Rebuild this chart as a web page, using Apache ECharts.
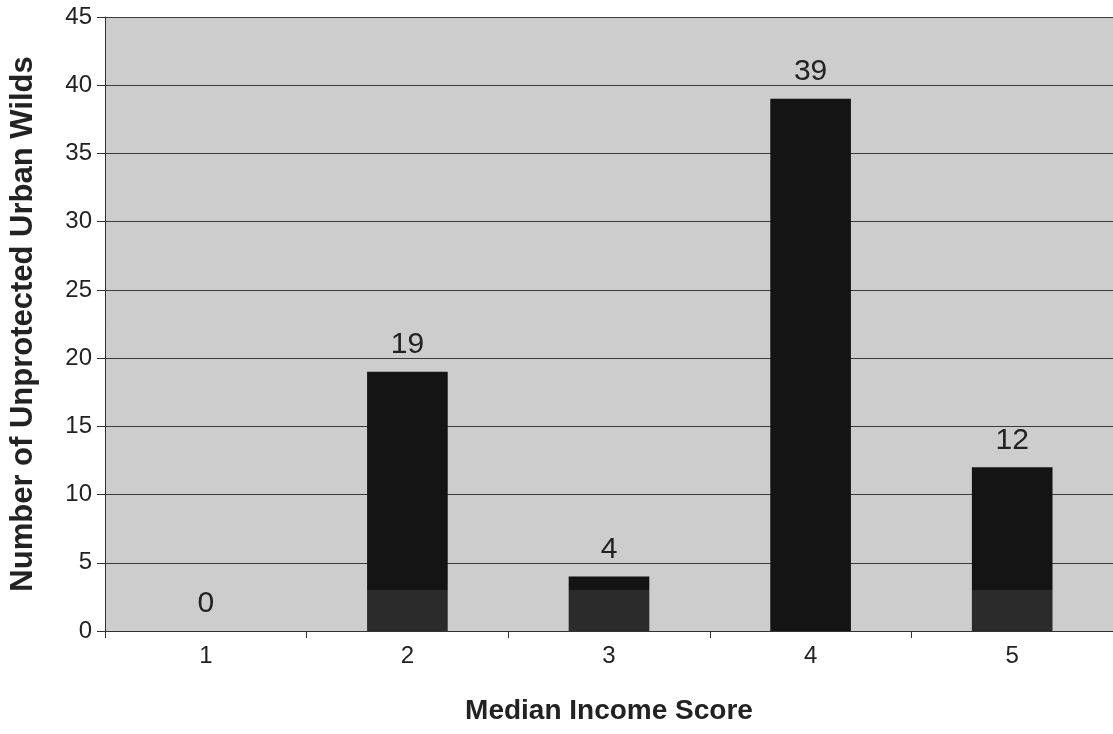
<!DOCTYPE html>
<html lang="en">
<head>
  <meta charset="UTF-8">
  <title>Median Income Score</title>
  <script src="https://cdn.jsdelivr.net/npm/echarts@6/dist/echarts.min.js"></script>
  <style>
    html, body { margin: 0; padding: 0; background: #fff; }
    #chart { width: 1113px; height: 734px; }
  </style>
</head>
<body>
  <div id="chart"></div>
  <script>
    // data
    var categories = ['1', '2', '3', '4', '5'];
    var totals = [0, 19, 4, 39, 12];
    // lighter band at the foot of some bars (as printed)
    var baseBand = [0, 3, 3, 0, 3];
    var upper = totals.map(function (v, i) { return v - baseBand[i]; });

    var font = '"Liberation Sans", Arial, sans-serif';
    var chart = echarts.init(document.getElementById('chart'));

    chart.setOption({
      animation: false,
      backgroundColor: '#ffffff',
      grid: {
        left: 105, right: 0, top: 17, bottom: 103,
        outerBoundsMode: 'none',
        containLabel: false,
        show: true, backgroundColor: '#cdcdcd', borderWidth: 0
      },
      xAxis: {
        type: 'category',
        data: categories,
        name: 'Median Income Score',
        nameLocation: 'middle',
        nameGap: 66,
        nameTextStyle: { fontFamily: font, fontSize: 28, fontWeight: 'bold', color: '#222' },
        axisLine: { lineStyle: { color: '#333', width: 1 } },
        axisTick: { show: true, length: 7, lineStyle: { color: '#333' } },
        axisLabel: { fontFamily: font, fontSize: 24, color: '#222', margin: 13 }
      },
      yAxis: {
        type: 'value',
        min: 0, max: 45, interval: 5,
        name: 'Number of Unprotected Urban Wilds',
        nameLocation: 'middle',
        nameGap: 66,
        nameTextStyle: { fontFamily: font, fontSize: 31, fontWeight: 'bold', color: '#222' },
        axisLine: { show: true, lineStyle: { color: '#333', width: 1 } },
        axisTick: { show: true, length: 8, lineStyle: { color: '#333' } },
        axisLabel: { fontFamily: font, fontSize: 24, color: '#222', margin: 13 },
        splitLine: { show: true, lineStyle: { color: '#3a3a3a', width: 1 } }
      },
      series: [
        {
          type: 'bar',
          stack: 'total',
          data: baseBand,
          barWidth: '40%',
          itemStyle: { color: '#2b2b2b' }
        },
        {
          type: 'bar',
          stack: 'total',
          data: upper,
          barWidth: '40%',
          itemStyle: { color: '#141414' },
          label: {
            show: true,
            position: 'top',
            distance: 12,
            fontFamily: font,
            fontSize: 30,
            color: '#222',
            formatter: function (p) { return totals[p.dataIndex]; }
          }
        }
      ]
    });
  </script>
</body>
</html>
